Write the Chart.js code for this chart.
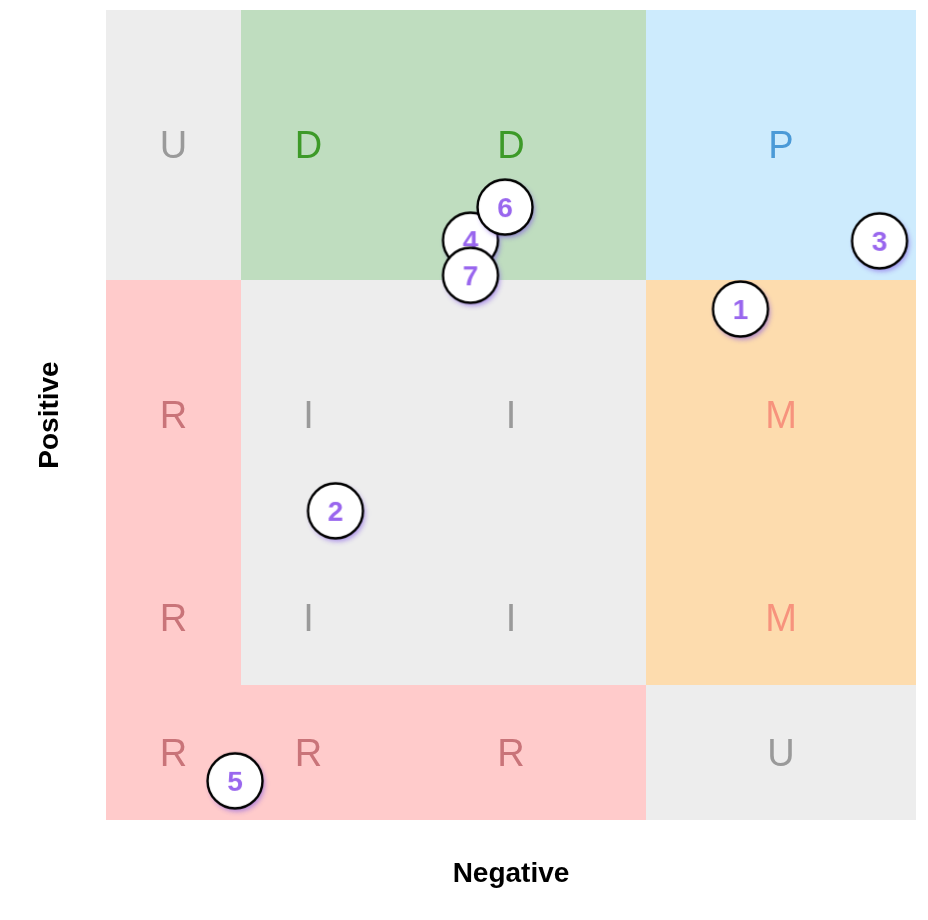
<!DOCTYPE html>
<html>
<head>
<meta charset="utf-8">
<script src="https://cdn.jsdelivr.net/npm/chart.js@4/dist/chart.umd.min.js"></script>
<style>
  html, body { margin: 0; padding: 0; background: #fff; }
  #wrap { width: 928px; height: 920px; }
</style>
</head>
<body>
<div id="wrap"><canvas id="matrix"></canvas></div>
<script>
// grid edges (value units) and the letter of each cell, rows from bottom to top
const xEdges = [0, 1, 2, 4, 6];
const yEdges = [0, 1, 2, 4, 6];
const cellRows = [
  ['R', 'R', 'R', 'U'],
  ['R', 'I', 'I', 'M'],
  ['R', 'I', 'I', 'M'],
  ['U', 'D', 'D', 'P']
];

// numbered items
const itemLabels = ['1', '2', '3', '4', '5', '6', '7'];
const itemX = [4.70, 1.70, 5.73, 2.70, 0.956, 2.956, 2.70];
const itemY = [3.785, 2.29, 4.29, 4.295, 0.29, 4.54, 4.035];

const xTitle = 'Negative';
const yTitle = 'Positive';

// colours per letter
const cellFill = { U: '#ededed', D: '#bfddbf', P: '#cdebfd', R: '#ffcbcb', I: '#ededed', M: '#fddcae' };
const cellInk  = { U: '#9a9a9a', D: '#3d9a28', P: '#4b9ad7', R: '#c97479', I: '#9a9a9a', M: '#f7937d' };
const FONT = '"Liberation Sans", Arial, Helvetica, sans-serif';

// bubble images: white disc, black ring, purple number, soft purple shadow
function bubble(txt) {
  const c = document.createElement('canvas');
  c.width = 72; c.height = 72;
  const g = c.getContext('2d');
  g.save();
  g.shadowColor = 'rgba(125, 80, 230, 0.6)';
  g.shadowBlur = 5;
  g.shadowOffsetX = 2;
  g.shadowOffsetY = 3;
  g.beginPath();
  g.arc(36, 36, 27.5, 0, Math.PI * 2);
  g.fillStyle = '#fff';
  g.fill();
  g.restore();
  g.beginPath();
  g.arc(36, 36, 27.5, 0, Math.PI * 2);
  g.lineWidth = 2.4;
  g.strokeStyle = '#000';
  g.stroke();
  g.fillStyle = '#9966ee';
  g.font = 'bold 28px ' + FONT;
  g.textAlign = 'center';
  g.textBaseline = 'middle';
  g.fillText(txt, 36, 38);
  return c;
}

// cells behind the data, placed with the chart's own scales
const cellPlugin = {
  id: 'cells',
  beforeDatasetsDraw(chart) {
    const { ctx, scales: { x, y } } = chart;
    ctx.save();
    cellRows.forEach((row, r) => {
      row.forEach((k, c) => {
        const x0 = x.getPixelForValue(xEdges[c]), x1 = x.getPixelForValue(xEdges[c + 1]);
        const y0 = y.getPixelForValue(yEdges[r]), y1 = y.getPixelForValue(yEdges[r + 1]);
        ctx.fillStyle = cellFill[k];
        ctx.fillRect(Math.round(x0), Math.round(y1), Math.round(x1) - Math.round(x0), Math.round(y0) - Math.round(y1));
      });
    });
    ctx.font = '38px ' + FONT;
    ctx.textAlign = 'center';
    ctx.textBaseline = 'middle';
    cellRows.forEach((row, r) => {
      row.forEach((k, c) => {
        const cx = x.getPixelForValue((xEdges[c] + xEdges[c + 1]) / 2);
        const cy = y.getPixelForValue((yEdges[r] + yEdges[r + 1]) / 2);
        ctx.fillStyle = cellInk[k];
        ctx.fillText(k, cx, cy + 3);
      });
    });
    ctx.restore();
  }
};

new Chart(document.getElementById('matrix'), {
  type: 'scatter',
  data: {
    labels: itemLabels,
    datasets: [{
      data: itemX.map((v, i) => ({ x: v, y: itemY[i] })),
      pointStyle: itemLabels.map(bubble),
      pointRadius: 28,
      pointHoverRadius: 28
    }]
  },
  options: {
    responsive: true,
    maintainAspectRatio: false,
    animation: false,
    layout: { autoPadding: false, padding: { left: 0, top: 10, right: 12, bottom: 0 } },
    plugins: { legend: { display: false }, tooltip: { enabled: false } },
    scales: {
      x: {
        min: 0, max: 6,
        grid: { display: false },
        border: { display: false },
        ticks: { display: false },
        afterFit(s) { s.height = 100; },
        title: { display: true, text: xTitle, color: '#000', padding: 29, font: { family: FONT, size: 28, weight: 'bold' } }
      },
      y: {
        min: 0, max: 6,
        grid: { display: false },
        border: { display: false },
        ticks: { display: false },
        afterFit(s) { s.width = 106; },
        title: { display: true, text: yTitle, color: '#000', padding: 33, font: { family: FONT, size: 28, weight: 'bold' } }
      }
    }
  },
  plugins: [cellPlugin]
});
</script>
</body>
</html>
